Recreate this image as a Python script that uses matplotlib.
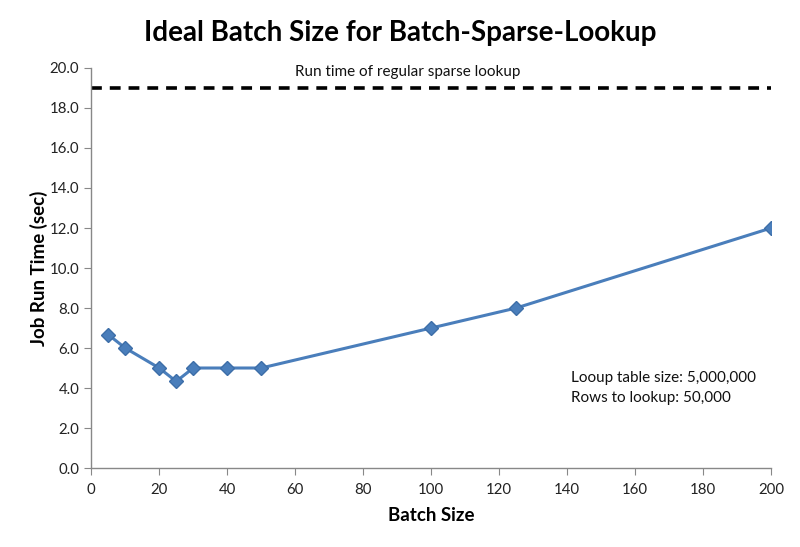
import matplotlib
matplotlib.use("Agg")
import matplotlib.pyplot as plt

batch_size = [5, 10, 20, 25, 30, 40, 50, 100, 125, 200]
run_time = [6.67, 6.0, 5.0, 4.33, 5.0, 5.0, 5.0, 7.0, 8.0, 12.0]
regular_lookup_time = 19.0
x_ticks = [0, 20, 40, 60, 80, 100, 120, 140, 160, 180, 200]
y_ticks = [0, 2, 4, 6, 8, 10, 12, 14, 16, 18, 20]

plt.rcParams['font.family'] = ['Lato', 'DejaVu Sans']

fig = plt.figure(figsize=(8, 5.47), dpi=100)
ax = fig.add_axes([0.114, 0.1444, 0.850, 0.7313])

ax.plot(batch_size, run_time, color='#4a7ebb', lw=2.2, marker='D', ms=7,
        markerfacecolor='#4a7ebb', markeredgecolor='#3d6ea8', zorder=3)
ax.plot([0, 200], [regular_lookup_time, regular_lookup_time], color='black',
        lw=2.6, ls=(0, (3, 2.2)), zorder=2)

ax.set_xlim(0, 200)
ax.set_ylim(0, 20)
ax.set_xticks(x_ticks)
ax.set_yticks(y_ticks)
ax.set_yticklabels([f"{v:.1f}" for v in y_ticks])
ax.tick_params(direction='out', length=5, color='#888888', labelsize=10.8,
               labelcolor='#222222')
ax.tick_params(axis='x', pad=6)
for s in ['top', 'right']:
    ax.spines[s].set_visible(False)
for s in ['left', 'bottom']:
    ax.spines[s].set_color('#888888')
    ax.spines[s].set_linewidth(1.0)

ax.text(93, 19.8, 'Run time of regular sparse lookup', ha='center', va='center',
        fontsize=11, color='#111111')
ax.text(141.2, 4.5, 'Looup table size: 5,000,000', ha='left', va='center',
        fontsize=11, color='#111111')
ax.text(141.2, 3.5, 'Rows to lookup: 50,000', ha='left', va='center',
        fontsize=11, color='#111111')

ax.set_xlabel('Batch Size', fontsize=13.5, fontweight='bold', labelpad=7)
ax.set_ylabel('Job Run Time (sec)', fontsize=13.5, fontweight='bold', labelpad=1)
fig.text(0.5, 0.94, 'Ideal Batch Size for Batch-Sparse-Lookup', ha='center',
         va='center', fontsize=20, fontweight='bold')

fig.savefig('out.png', dpi=100)
